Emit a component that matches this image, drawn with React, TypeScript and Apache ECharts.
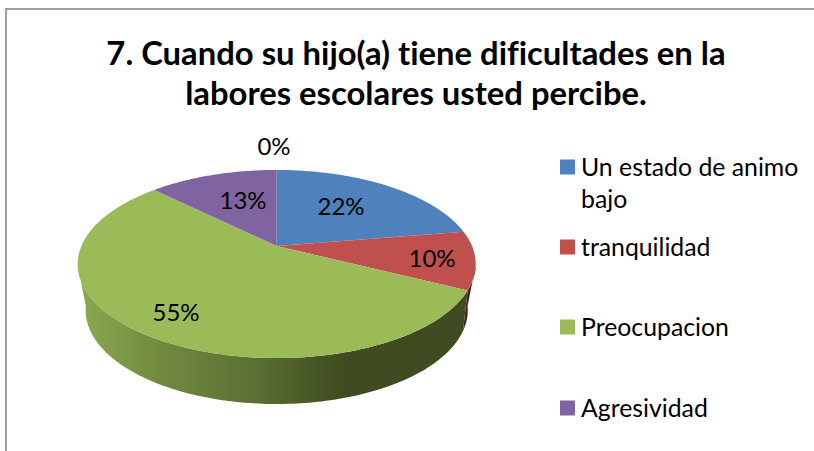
import React, { useEffect, useRef } from "react";
import * as echarts from "echarts";

const titleLines = ["7. Cuando su hijo(a) tiene dificultades en la", "labores escolares usted percibe."];
const categories = ["Un estado de animo bajo", "tranquilidad", "Preocupacion", "Agresividad", ""];
const legendLines = [["Un estado de animo", "bajo"], ["tranquilidad"], ["Preocupacion"], ["Agresividad"]];
const values = [22.4, 10, 55, 12.6, 0];
const colors = ["#4F81BD", "#C0504D", "#9BBB59", "#8064A2", "#4BACC6"];
const labelAnchors = [[341, 205], [432, 257], [176, 311], [243, 199], [274, 145]];

const CX = 276.7;
const TOP = { y0: 246, A: 195.3, B: 90.6, k: 0.1915 };
const BOTTOM = { y0: 286.7, A: 185, B: 88, k: 0.25 };
const FRONT_START = 102;
const FRONT_END = 258;

function project(p: { y0: number; A: number; B: number; k: number }, deg: number): number[] {
  const r = (deg * Math.PI) / 180;
  const u = Math.sin(r);
  const v = Math.cos(r);
  const d = 1 + p.k * v;
  return [CX + (p.A * u) / d, p.y0 - (p.B * v) / d];
}

function arc(p: any, a: number, b: number): number[][] {
  const n = Math.max(2, Math.ceil(Math.abs(b - a)));
  const pts: number[][] = [];
  for (let i = 0; i <= n; i++) pts.push(project(p, a + ((b - a) * i) / n));
  return pts;
}

function sideFill(i: number): any {
  if (i === 2) {
    return new echarts.graphic.LinearGradient(0, 0, 1, 0, [
      { offset: 0, color: "#8CAA50" },
      { offset: 0.21, color: "#718A40" },
      { offset: 0.46, color: "#5A6F33" },
      { offset: 0.68, color: "#3F4B20" },
      { offset: 1, color: "#3F4B20" },
    ]);
  }
  return i === 1 ? "#4F1E1D" : colors[i];
}

export default function App() {
  const ref = useRef<HTMLDivElement>(null);
  useEffect(() => {
    if (!ref.current) return;
    const chart = echarts.init(ref.current, undefined, { renderer: "svg" });
    const total = values.reduce((s, v) => s + v, 0);
    const starts: number[] = [];
    let acc = 0;
    values.forEach((v) => {
      starts.push((acc / total) * 360);
      acc += v;
    });
    const data = values.map((v, i) => ({ name: categories[i], value: v }));

    const renderSide = (_: any, api: any) => {
      const i = api.value(1);
      const a = Math.max(starts[i], FRONT_START);
      const b = Math.min(starts[i] + (values[i] / total) * 360, FRONT_END);
      if (b <= a) return { type: "group", children: [] };
      const points = [...arc(TOP, a, b), ...arc(BOTTOM, b, a)];
      return { type: "polygon", shape: { points }, style: { fill: sideFill(i) } };
    };
    const renderTop = (_: any, api: any) => {
      const i = api.value(1);
      const a = starts[i];
      const b = a + (values[i] / total) * 360;
      if (b <= a) return { type: "group", children: [] };
      const points = [[CX, TOP.y0], ...arc(TOP, a, b)];
      return { type: "polygon", shape: { points }, style: { fill: colors[i] } };
    };
    const renderLabel = (_: any, api: any) => {
      const i = api.value(1);
      return {
        type: "text",
        x: labelAnchors[i][0],
        y: labelAnchors[i][1],
        style: {
          text: `${Math.round((values[i] / total) * 100)}%`,
          fill: "#000",
          font: "24px Lato",
          align: "center",
          verticalAlign: "middle",
        },
      };
    };
    const seriesData = data.map((d, i) => ({ name: d.name, value: [d.value, i] }));
    const graphicEls: any[] = [
      { type: "rect", shape: { x: 6, y: 9, width: 830, height: 460 }, style: { fill: "none", stroke: "#A0A0A0", lineWidth: 2 }, silent: true },
    ];
    const legendY = [167, 247, 327, 408];
    legendLines.forEach((lines, i) => {
      graphicEls.push({ type: "rect", shape: { x: 560, y: legendY[i] - 7.5, width: 15, height: 15 }, style: { fill: colors[i] } });
      lines.forEach((t, j) => {
        graphicEls.push({
          type: "text",
          x: 581,
          y: legendY[i] - 1 + j * 32,
          style: { text: t, fill: "#000", font: "24.8px Lato", align: "left", verticalAlign: "middle" },
        });
      });
    });

    chart.setOption({
      animation: false,
      backgroundColor: "#fff",
      title: {
        text: titleLines.join("\n"),
        left: 411,
        top: 27,
        textAlign: "center",
        textStyle: { fontFamily: "Lato", fontWeight: "bold", fontSize: 32.8, lineHeight: 40, color: "#000" },
      },
      graphic: graphicEls,
      series: [
        { type: "custom", coordinateSystem: "none", renderItem: renderSide, data: seriesData, silent: true, z: 1 },
        { type: "custom", coordinateSystem: "none", renderItem: renderTop, data: seriesData, silent: true, z: 2 },
        { type: "custom", coordinateSystem: "none", renderItem: renderLabel, data: seriesData, silent: true, z: 3 },
      ],
    });
    return () => chart.dispose();
  }, []);
  return <div ref={ref} style={{ position: "fixed", left: 0, top: 0, width: 814, height: 451, fontVariantLigatures: "none" }} />;
}
